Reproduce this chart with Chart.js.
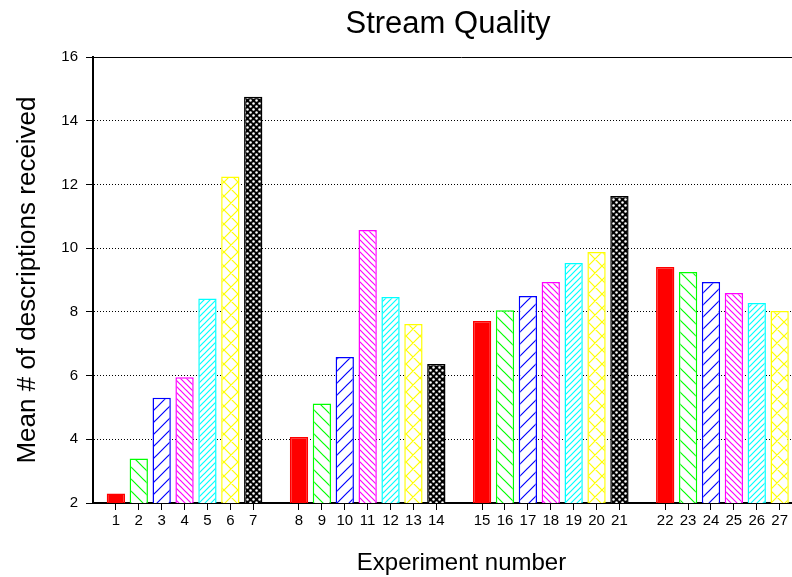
<!DOCTYPE html>
<html>
<head>
<meta charset="utf-8">
<script src="https://cdn.jsdelivr.net/npm/chart.js@4/dist/chart.umd.min.js"></script>
<style>
  html, body { margin: 0; padding: 0; background: #fff; overflow: hidden; }
  #wrap { width: 792px; height: 577px; overflow: hidden; }
</style>
</head>
<body>
<div id="wrap"><canvas id="chart" width="896" height="577"></canvas></div>
<script>
// Mean number of descriptions received, one array per experiment series
const seriesA = [2.30, 3.40, 5.30, 5.95, 8.42, 12.25, 14.75];   // experiments 1-7
const seriesB = [4.07, 5.12, 6.58, 10.57, 8.47, 7.62, 6.36];    // experiments 8-14
const seriesC = [7.71, 8.05, 8.50, 8.94, 9.53, 9.88, 11.64];    // experiments 15-21
const seriesD = [9.41, 9.25, 8.94, 8.59, 8.28, 8.03];           // experiments 22-27
const groups = [seriesA, seriesB, seriesC, seriesD];

const yTicks = [2, 4, 6, 8, 10, 12, 14, 16];

const FONT = "'Liberation Sans', Arial, Helvetica, sans-serif";
const palette = ['#ff0000', '#00ff00', '#0000ff', '#ff00ff', '#00ffff', '#ffff00', '#000000'];

// Fill patterns, one per position inside a series
function tile(size, draw) {
  const c = document.createElement('canvas');
  c.width = size; c.height = size;
  const g = c.getContext('2d');
  g.fillStyle = '#fff';
  g.fillRect(0, 0, size, size);
  draw(g, size);
  return document.getElementById('chart').getContext('2d').createPattern(c, 'repeat');
}
function lines(color, size, dirs, lw) {
  return tile(size, (g, s) => {
    g.strokeStyle = color;
    g.lineWidth = lw;
    g.beginPath();
    for (const d of dirs) {
      for (const o of [-s, 0, s]) {
        if (d === 'fwd') { g.moveTo(o - 1, s + 1); g.lineTo(o + s + 1, -1); }
        else { g.moveTo(o - 1, -1); g.lineTo(o + s + 1, s + 1); }
      }
    }
    g.stroke();
  });
}
const fills = [
  palette[0],
  lines(palette[1], 12, ['back'], 1.2),
  lines(palette[2], 12, ['fwd'], 1.2),
  lines(palette[3], 6, ['back'], 1.2),
  lines(palette[4], 6, ['fwd'], 1.2),
  lines(palette[5], 14, ['fwd', 'back'], 1.2),
  tile(6, (g, s) => {
    g.fillStyle = '#000';
    g.fillRect(0, 0, s, s);
    g.fillStyle = '#fff';
    for (const [cx, cy] of [[1.5, 1.5], [4.5, 4.5]]) {
      g.beginPath(); g.arc(cx, cy, 1.25, 0, Math.PI * 2); g.fill();
    }
  })
];

// Slot positions along x: one empty slot separates consecutive series
const points = [], tickValues = [], tickLabels = [], bg = [], bc = [];
let slot = 1, exp = 1;
groups.forEach((vals) => {
  vals.forEach((v, i) => {
    points.push({ x: slot, y: v });
    tickValues.push(slot);
    tickLabels.push(String(exp));
    bg.push(fills[i]);
    bc.push(palette[i]);
    slot++; exp++;
  });
  slot++;
});

// Solid frame line along the top of the plot area
const frameTop = {
  id: 'frameTop',
  afterDraw(chart) {
    const { ctx, chartArea } = chart;
    const y = Math.round(chart.scales.y.getPixelForValue(16)) + 0.5;
    ctx.save();
    ctx.strokeStyle = '#000';
    ctx.lineWidth = 1;
    ctx.beginPath();
    ctx.moveTo(chartArea.left, y);
    ctx.lineTo(chartArea.right, y);
    ctx.stroke();
    ctx.restore();
  }
};

new Chart(document.getElementById('chart'), {
  type: 'bar',
  data: {
    datasets: [{
      data: points,
      backgroundColor: bg,
      borderColor: bc,
      borderWidth: 1.5,
      categoryPercentage: 1,
      barPercentage: 0.8
    }]
  },
  options: {
    responsive: false,
    animation: false,
    layout: { padding: 0 },
    plugins: {
      legend: { display: false },
      tooltip: { enabled: false },
      title: {
        display: true,
        text: 'Stream Quality',
        color: '#000',
        font: { family: FONT, size: 31, weight: 'normal', lineHeight: 1.2 },
        padding: { top: 6, bottom: 13.8 }
      }
    },
    scales: {
      x: {
        type: 'linear',
        min: 0,
        max: 32.2,
        offset: false,
        afterBuildTicks: (s) => { s.ticks = tickValues.map(v => ({ value: v })); },
        afterFit: (s) => { s.height = 74; },
        ticks: {
          autoSkip: false,
          maxRotation: 0,
          padding: 2,
          color: '#000',
          font: { family: FONT, size: 15 },
          callback: (v, i) => tickLabels[i]
        },
        grid: { drawOnChartArea: false, drawTicks: true, tickLength: 7, tickColor: '#000', tickWidth: 1, offset: false },
        border: { color: '#000', width: 2 },
        title: {
          display: true,
          text: 'Experiment number',
          color: '#000',
          font: { family: FONT, size: 24, lineHeight: 1.1 },
          padding: { top: 0, bottom: 0 }
        }
      },
      y: {
        min: 2,
        max: 16,
        afterBuildTicks: (s) => { s.ticks = yTicks.map(v => ({ value: v })); },
        afterFit: (s) => { s.width = 93; },
        ticks: { padding: 8, color: '#000', font: { family: FONT, size: 15 } },
        grid: { color: '#000', lineWidth: 1, tickLength: 7, tickColor: '#000', tickWidth: 1 },
        border: { color: '#000', width: 2, dash: [1, 2] },
        title: {
          display: true,
          text: 'Mean # of descriptions received',
          color: '#000',
          font: { family: FONT, size: 26 },
          padding: { top: 12, bottom: 0 }
        }
      },
      // empty right-hand margin beside the plot area
      margin: {
        type: 'linear',
        position: 'right',
        min: 0,
        max: 1,
        afterFit: (s) => { s.width = 66; },
        ticks: { display: false },
        grid: { display: false, drawTicks: false },
        border: { display: false },
        title: { display: false }
      }
    }
  },
  plugins: [frameTop]
});
</script>
</body>
</html>
